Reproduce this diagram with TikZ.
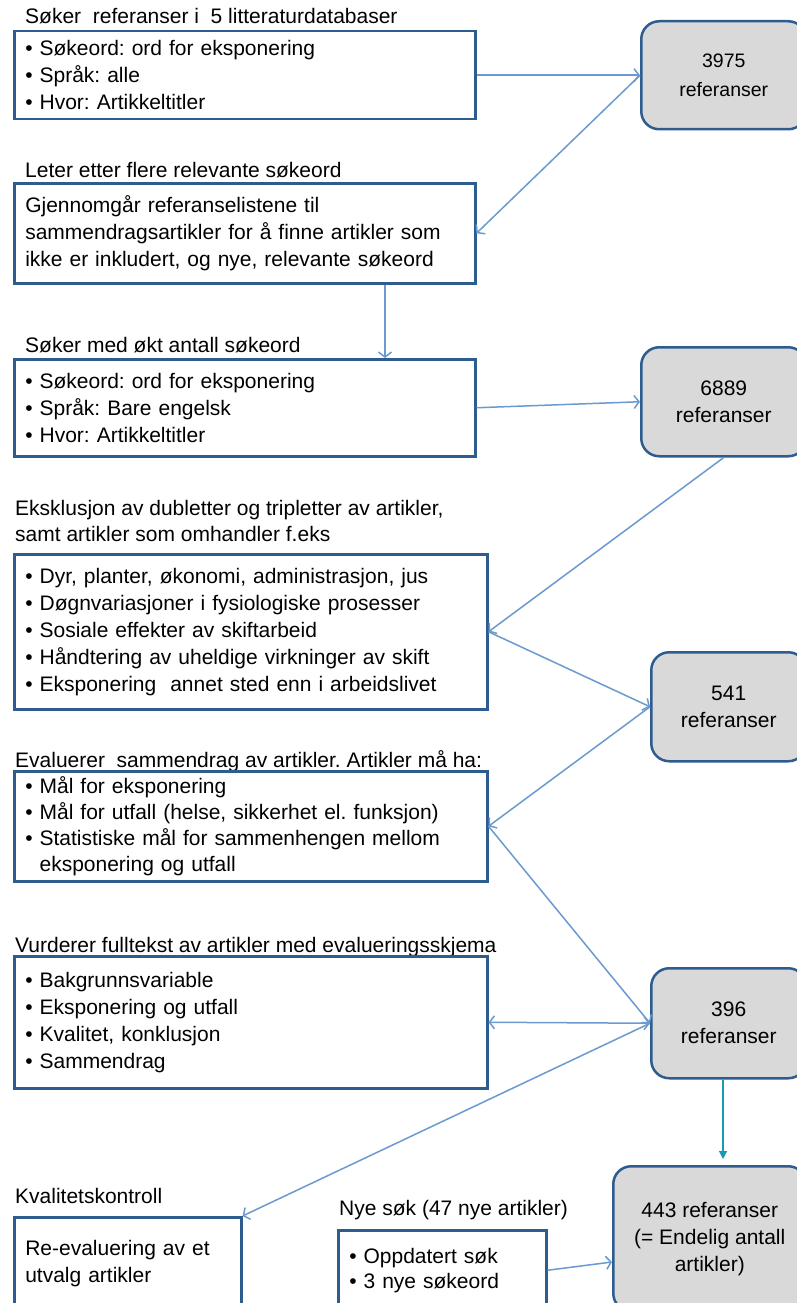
\documentclass[tikz,border=0pt]{standalone}
\usepackage{fontspec}
\setmainfont{Liberation Sans}
\usetikzlibrary{arrows.meta,calc}
\definecolor{boxblue}{HTML}{2E5C8E}
\definecolor{arrowblue}{HTML}{6A9AD0}
\definecolor{boxgray}{HTML}{D9D9D9}
\definecolor{tealarrow}{HTML}{1A98B0}
\newcommand{\bodyfont}{\fontsize{21}{27}\selectfont}
\frenchspacing
\begin{document}
\frenchspacing
\begin{tikzpicture}[x=1pt,y=-1pt,
  box/.style={draw=boxblue, line width=2.5pt, fill=white, anchor=north west,
    inner xsep=11pt, inner ysep=0pt, align=left, font=\bodyfont},
  rbox/.style={draw=boxblue, line width=2.5pt, fill=boxgray, rounded corners=18pt,
    anchor=north west, align=center, inner sep=0pt, font=\bodyfont},
  title/.style={anchor=base west, inner sep=0pt, font=\bodyfont},
  conn/.style={draw=arrowblue, line width=1.5pt, -{Straight Barb[length=5pt,width=13pt]}},
  dconn/.style={draw=arrowblue, line width=1.5pt, {Straight Barb[length=5pt,width=13pt]}-{Straight Barb[length=5pt,width=13pt]}},
  tconn/.style={draw=tealarrow, line width=1.2pt, -{Triangle[length=8pt,width=8pt]}}
]
\useasboundingbox (0,0) rectangle (797,1303);
\clip (0,0) rectangle (797,1303);
\fill[white] (0,0) rectangle (797,1303);

% titles
\node[title] (t1) at (25,24) {Søker\ \ referanser i\ \ 5 litteraturdatabaser};
\node[title] (t2) at (25,177) {Leter etter flere relevante søkeord};
\node[title] (t3) at (25,352) {Søker med økt antall søkeord};
\node[title] (t4a) at (15,515) {Eksklusjon av dubletter og tripletter av artikler,};
\node[title] (t4b) at (15,541) {samt artikler som omhandler f.eks};
\node[title] (t5) at (15,767) {Evaluerer\ \ sammendrag av artikler. Artikler må ha:};
\node[title] (t6) at (15,952) {Vurderer fulltekst av artikler med evalueringsskjema};
\node[title] (t7) at (15,1203) {Kvalitetskontroll};
\node[title] (t8) at (339,1215) {Nye søk (47 nye artikler)};

% left boxes
\node[box, text width=439pt, minimum height=88pt] (b1) at (13,30)
  {• Søkeord: ord for eksponering\\• Språk: alle\\• Hvor: Artikkeltitler};
\node[box, text width=439pt, minimum height=100pt] (b2) at (13,182)
  {Gjennomgår referanselistene til\\sammendragsartikler for å finne artikler som\\ikke er inkludert, og nye, relevante søkeord};
\node[box, text width=439pt, minimum height=97pt] (b3) at (13,358)
  {• Søkeord: ord for eksponering\\• Språk: Bare engelsk\\• Hvor: Artikkeltitler};
\node[box, text width=451pt, minimum height=155pt] (b4) at (13,553)
  {• Dyr, planter, økonomi, administrasjon, jus\\• Døgnvariasjoner i fysiologiske prosesser\\• Sosiale effekter av skiftarbeid\\• Håndtering av uheldige virkninger av skift\\• Eksponering\ \ annet sted enn i arbeidslivet};
\node[box, text width=451pt, minimum height=110pt, font=\fontsize{21}{26}\selectfont] (b5) at (13,770)
  {• Mål for eksponering\\• Mål for utfall (helse, sikkerhet el. funksjon)\\• Statistiske mål for sammenhengen mellom\\\phantom{• }eksponering og utfall};
\node[box, text width=451pt, minimum height=132pt] (b6) at (13,955)
  {• Bakgrunnsvariable\\• Eksponering og utfall\\• Kvalitet, konklusjon\\• Sammendrag};
\node[box, text width=205pt, minimum height=92pt] (kval) at (13,1216)
  {Re-evaluering av et\\utvalg artikler};
\node[box, text width=186pt, minimum height=80pt, font=\fontsize{21}{25}\selectfont] (nye) at (337,1229)
  {• Oppdatert søk\\• 3 nye søkeord};

% right boxes
\node[rbox, minimum width=165pt, minimum height=108pt, font=\fontsize{19.5}{29}\selectfont] (r1) at (640,20) {3975\\referanser};
\node[rbox, minimum width=165pt, minimum height=109pt] (r2) at (640,346) {6889\\referanser};
\node[rbox, minimum width=155pt, minimum height=109pt] (r3) at (650,651) {541\\referanser};
\node[rbox, minimum width=155pt, minimum height=110pt] (r4) at (650,967) {396\\referanser};
\node[rbox, minimum width=193pt, minimum height=145pt] (r5) at (612,1165) {443 referanser\\(= Endelig antall\\artikler)};

% connectors
\coordinate (c1) at (385,0);
\coordinate (c2) at (723,0);
\coordinate (c3) at (0,1262);
\draw[conn] (b1.east) -- (r1.west);
\draw[conn] (r1.west) -- (b2.east);
\draw[conn] (b2.south -| c1) -- (b3.north -| c1);
\draw[conn] (b3.east) -- (r2.west);
\draw[conn] (r2.south) -- (b4.east);
\draw[conn] (b4.east) -- (r3.west);
\draw[conn] (r3.west) -- (b5.east);
\draw[conn] (b5.east) -- (r4.west);
\draw[dconn] (b6.east) -- (r4.west);
\draw[conn] (r4.west) -- (kval.north east);
\draw[tconn, shorten >=6pt] (r4.south -| c2) -- (r5.north -| c2);
\draw[conn] (nye.east) -- (r5.west |- c3);
\end{tikzpicture}
\end{document}
